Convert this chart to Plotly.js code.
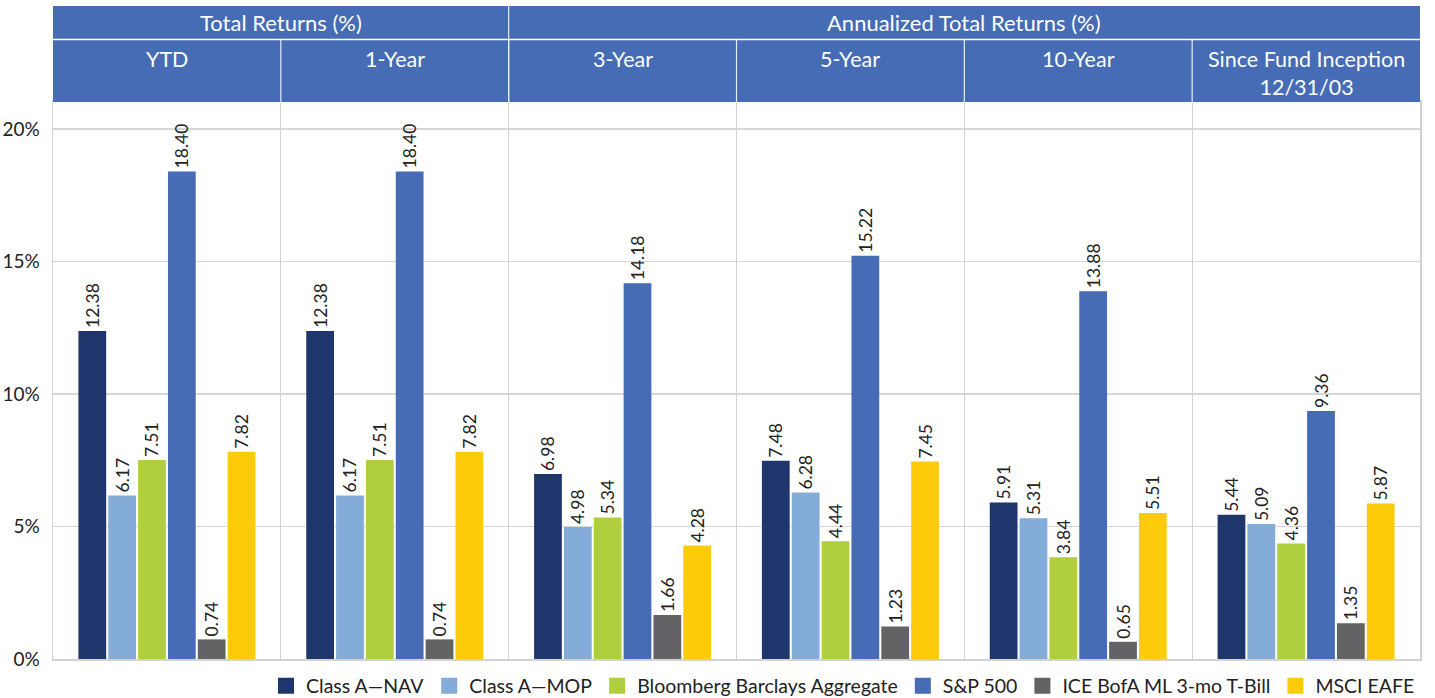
<!DOCTYPE html>
<html>
<head>
<meta charset="utf-8">
<script src="https://cdn.plot.ly/plotly-3.0.1.min.js"></script>
<style>
  html, body { margin: 0; padding: 0; background: #ffffff; }
  #chart { width: 1435px; height: 698px; }
</style>
</head>
<body>
<div id="chart"></div>
<script>
// ---- Data ----
const categories = ['YTD', '1-Year', '3-Year', '5-Year', '10-Year', 'Since Fund Inception<br>12/31/03'];
const seriesNames = ['Class A\u2014NAV', 'Class A\u2014MOP', 'Bloomberg Barclays Aggregate', 'S&P 500', 'ICE BofA ML 3-mo T-Bill', 'MSCI EAFE'];
const classANav = [12.38, 12.38, 6.98, 7.48, 5.91, 5.44];
const classAMop = [6.17, 6.17, 4.98, 6.28, 5.31, 5.09];
const bbAggregate = [7.51, 7.51, 5.34, 4.44, 3.84, 4.36];
const sp500 = [18.40, 18.40, 14.18, 15.22, 13.88, 9.36];
const tBill = [0.74, 0.74, 1.66, 1.23, 0.65, 1.35];
const msciEafe = [7.82, 7.82, 4.28, 7.45, 5.51, 5.87];
const headerGroups = ['Total Returns (%)', 'Annualized Total Returns (%)'];
const headerGroupSpans = [[0, 1], [2, 5]];
const yTickVals = [0, 5, 10, 15, 20];

// ---- Styles ----
const colors = ['#1e366b', '#83acd9', '#b0cf3e', '#456cb4', '#636366', '#fdcb0a'];
const headerBlue = '#456cb4';
const FONT = 'Lato, "Open Sans", sans-serif';
const allSeries = [classANav, classAMop, bbAggregate, sp500, tBill, msciEafe];

const traces = [];
allSeries.forEach((vals, i) => {
  traces.push({
    type: 'bar',
    name: seriesNames[i],
    x: categories,
    y: vals,
    marker: { color: colors[i] },
    text: vals.map(v => v.toFixed(2)),
    texttemplate: '%{text}',
    textposition: 'outside',
    textangle: -90,
    constraintext: 'none',
    textfont: { family: FONT, size: 17.5, color: '#222222' },
    cliponaxis: false,
    showlegend: false,
    hoverinfo: 'x+y+name'
  });
});
// legend swatches (square markers, larger than default bar icons)
allSeries.forEach((vals, i) => {
  traces.push({
    type: 'scatter',
    mode: 'markers',
    name: seriesNames[i],
    x: [null],
    y: [null],
    marker: { symbol: 'square', size: 17, color: colors[i] },
    showlegend: true,
    hoverinfo: 'skip'
  });
});

// ---- Header shapes & annotations ----
const plotTopPx = 102, plotBotPx = 659, plotH = plotBotPx - plotTopPx;
const py = p => (plotBotPx - p) / plotH;
const shapes = [];
const annotations = [];

shapes.push({ type: 'rect', xref: 'x', yref: 'paper', x0: -0.5, x1: categories.length - 0.5,
  y0: 1, y1: py(6), fillcolor: headerBlue, line: { width: 0 }, layer: 'above' });
shapes.push({ type: 'line', xref: 'x', yref: 'paper', x0: -0.5, x1: categories.length - 0.5,
  y0: py(39.5), y1: py(39.5), line: { color: '#ffffff', width: 1.5 }, layer: 'above' });
for (let i = 1; i < categories.length; i++) {
  shapes.push({ type: 'line', xref: 'x', yref: 'paper', x0: i - 0.5, x1: i - 0.5,
    y0: 1, y1: py(39.5), line: { color: '#e8ecf5', width: 1.2 }, layer: 'above' });
}
headerGroupSpans.forEach((span, gi) => {
  if (gi > 0) {
    shapes.push({ type: 'line', xref: 'x', yref: 'paper', x0: span[0] - 0.5, x1: span[0] - 0.5,
      y0: 1, y1: py(6), line: { color: '#e8ecf5', width: 1.2 }, layer: 'above' });
  }
  annotations.push({ xref: 'x', yref: 'paper', x: (span[0] + span[1]) / 2, y: py(23),
    text: headerGroups[gi], showarrow: false, xanchor: 'center', yanchor: 'middle',
    font: { family: FONT, size: 22, color: '#ffffff' } });
});
categories.forEach((c, i) => {
  annotations.push({ xref: 'x', yref: 'paper', x: i, y: py(44), text: c, showarrow: false,
    xanchor: 'center', yanchor: 'top', align: 'center',
    font: { family: FONT, size: 21.5, color: '#ffffff' } });
});

const layout = {
  width: 1435,
  height: 698,
  margin: { l: 53, r: 15, t: plotTopPx, b: 698 - plotBotPx, pad: 0, autoexpand: false },
  paper_bgcolor: '#ffffff',
  plot_bgcolor: '#ffffff',
  font: { family: FONT, size: 17, color: '#222222' },
  barmode: 'group',
  bargap: 0.214,
  bargroupgap: 0.07,
  xaxis: {
    type: 'category',
    tickson: 'boundaries',
    showgrid: true,
    gridcolor: '#d2d2d2',
    gridwidth: 1,
    showticklabels: false,
    ticks: '',
    showline: true,
    linecolor: '#d2d2d2',
    linewidth: 2,
    mirror: true,
    range: [-0.5, categories.length - 0.5],
    fixedrange: true
  },
  yaxis: {
    range: [0, 21.02],
    tickmode: 'array',
    tickvals: yTickVals,
    ticktext: yTickVals.map(v => v + '%'),
    showgrid: true,
    gridcolor: '#d6d6d6',
    gridwidth: 1.6,
    zeroline: false,
    showline: true,
    linecolor: '#d2d2d2',
    linewidth: 1.5,
    mirror: true,
    ticks: 'outside',
    ticklen: 8,
    tickcolor: 'rgba(0,0,0,0)',
    tickfont: { family: FONT, size: 19, color: '#222222' },
    fixedrange: true
  },
  legend: {
    orientation: 'h',
    xref: 'paper',
    x: 1,
    xanchor: 'right',
    yref: 'container',
    y: 1 - 686 / 698,
    yanchor: 'middle',
    font: { family: FONT, size: 19.5, color: '#222222' },
    itemclick: false,
    itemdoubleclick: false,
    bgcolor: 'rgba(0,0,0,0)'
  },
  shapes: shapes,
  annotations: annotations
};

Plotly.newPlot('chart', traces, layout, { displayModeBar: false, staticPlot: true });
</script>
</body>
</html>
